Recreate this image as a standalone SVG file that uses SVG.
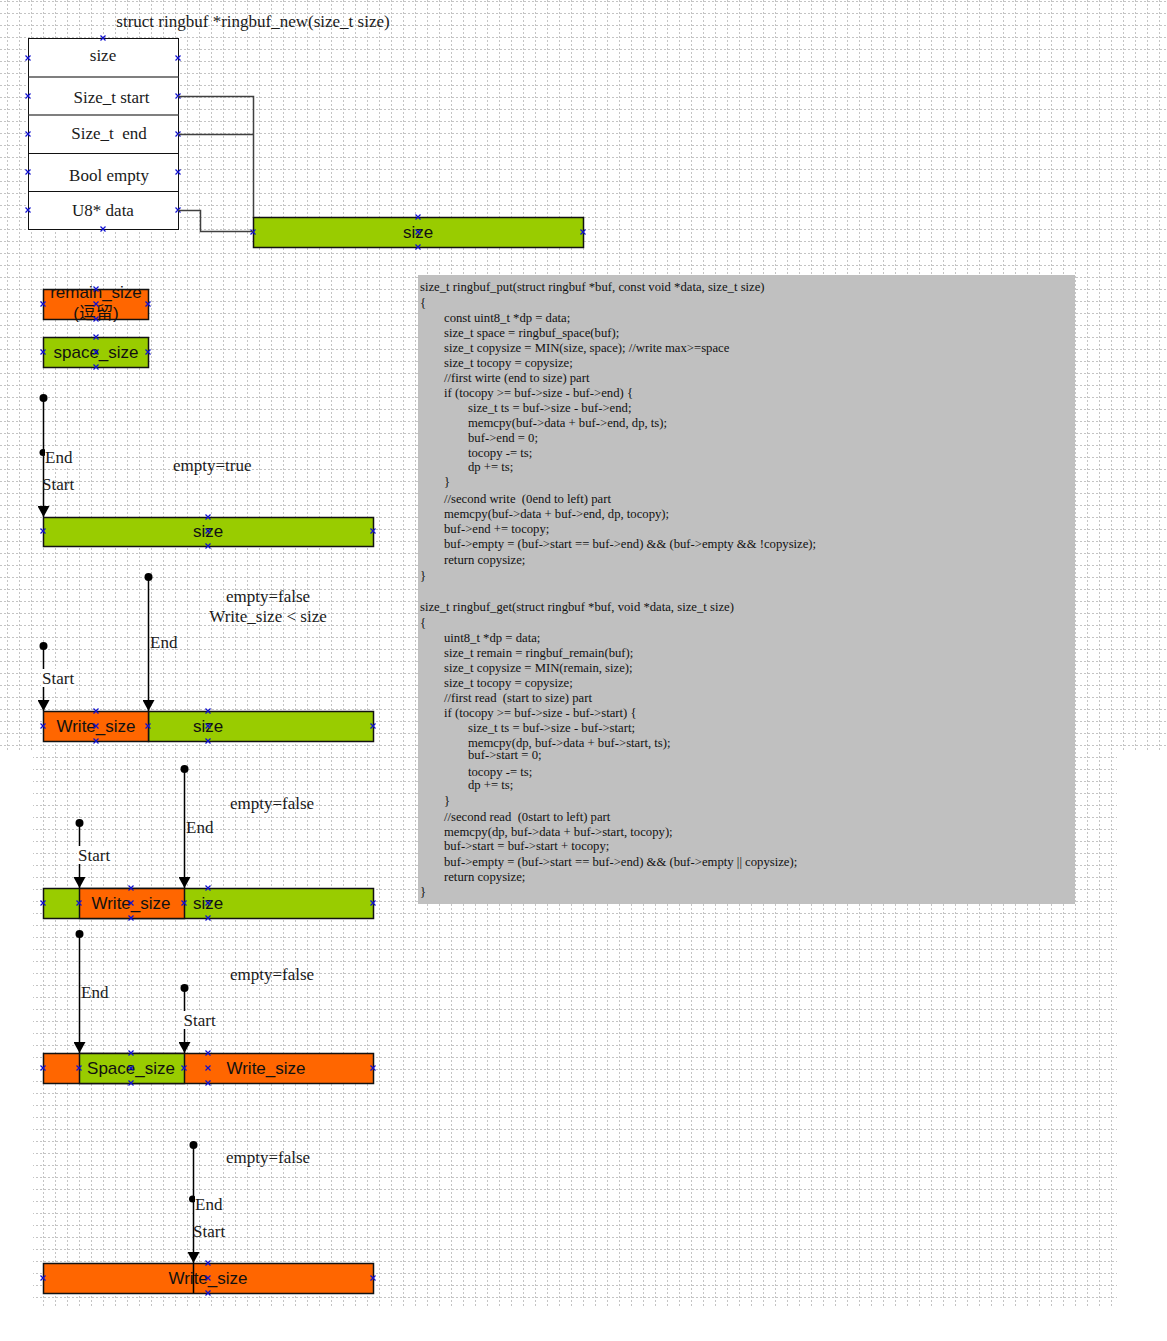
<svg xmlns="http://www.w3.org/2000/svg" xmlns:xlink="http://www.w3.org/1999/xlink" width="1167" height="1341" viewBox="0 0 1167 1341">
<style>
.serif{font-family:"Liberation Serif","Times New Roman",serif;font-size:17px;fill:#1a1a1a;white-space:pre}
.sans{font-family:"Liberation Sans",Arial,"Noto Sans CJK SC",sans-serif;font-size:17px;fill:#111;white-space:pre}
.code{font-family:"Liberation Serif","Times New Roman",serif;font-size:12.7px;fill:#111;white-space:pre}
.mid{text-anchor:middle}
.green{fill:#99cc00;stroke:#111;stroke-width:1.5}
.orange{fill:#ff6600;stroke:#111;stroke-width:1.5}
.wire{fill:none;stroke:#404040;stroke-width:1.5}
.ptr{fill:none;stroke:#000;stroke-width:1.5}
.arrow{marker-end:url(#arr)}
.dot{fill:#000}
.bg{fill:#fff}
.mk{fill:none;stroke:#1010d0;stroke-width:1.2}
</style>
<defs>
<pattern id="grid" width="12" height="12" patternUnits="userSpaceOnUse">
<path d="M0 1.5H12" stroke="#c4c4c4" stroke-width="1" stroke-dasharray="2 2"/>
<path d="M7.5 0V12" stroke="#c4c4c4" stroke-width="1" stroke-dasharray="2 2"/>
</pattern>
<marker id="arr" viewBox="0 0 11 12" refX="11" refY="6" markerWidth="11" markerHeight="12" markerUnits="userSpaceOnUse" orient="auto">
<path d="M0,0 L11,6 L0,12 z" fill="#000"/>
</marker>
<symbol id="x" overflow="visible"><path class="mk" d="M-2.5,-2.5L2.5,2.5M-2.5,2.5L2.5,-2.5"/></symbol>
</defs>

<rect width="1167" height="1341" fill="#fff"/>
<g id="grid-bg">
<rect x="0" y="0" width="1167" height="750" fill="url(#grid)"/>
<rect x="33" y="750" width="1084" height="557" fill="url(#grid)"/>
</g>

<text class="serif mid" x="253" y="27">struct ringbuf *ringbuf_new(size_t size)</text>

<g id="struct">
<rect x="28.5" y="38.5" width="150" height="191" fill="#fff" stroke="#111" stroke-width="1"/>
<path d="M28.5 77H178.5M28.5 115H178.5" stroke="#555" stroke-width="1.5"/>
<path d="M28.5 153.5H178.5M28.5 191.5H178.5" stroke="#111" stroke-width="1"/>
<text class="serif mid" x="103" y="61">size</text>
<text class="serif mid" x="111.5" y="103">Size_t start</text>
<text class="serif mid" x="109" y="139">Size_t  end</text>
<text class="serif mid" x="109" y="181">Bool empty</text>
<text class="serif mid" x="103" y="216">U8* data</text>
<use href="#x" x="103" y="38"/><use href="#x" x="28" y="58"/><use href="#x" x="178" y="58"/>
<use href="#x" x="28" y="96"/><use href="#x" x="178" y="96"/>
<use href="#x" x="28" y="134"/><use href="#x" x="178" y="134"/>
<use href="#x" x="28" y="172"/><use href="#x" x="178" y="172"/>
<use href="#x" x="28" y="210"/><use href="#x" x="178" y="210"/>
<use href="#x" x="103" y="229"/>
</g>

<g id="buffer">
<rect class="green" x="253.5" y="217.5" width="330" height="30"/>
<text class="sans mid" x="418" y="238">size</text>
<use href="#x" x="418" y="217"/><use href="#x" x="418" y="232"/><use href="#x" x="418" y="247"/>
<use href="#x" x="253" y="232"/><use href="#x" x="583" y="232"/>
</g>

<g id="remain-size">
<rect class="orange" x="43.5" y="289.5" width="105" height="30"/>
<text class="sans mid" x="96" y="298">remain_size</text>
<text class="sans mid" x="96" y="319">(逗留)</text>
<use href="#x" x="96" y="289"/><use href="#x" x="43" y="304"/><use href="#x" x="96" y="304"/><use href="#x" x="148" y="304"/><use href="#x" x="96" y="319"/>
</g>

<g id="space-size">
<rect class="green" x="43.5" y="337.5" width="105" height="30"/>
<text class="sans mid" x="96" y="358">space_size</text>
<use href="#x" x="96" y="337"/><use href="#x" x="43" y="352"/><use href="#x" x="96" y="352"/><use href="#x" x="148" y="352"/><use href="#x" x="96" y="367"/>
</g>

<g id="scene1-bar">
<rect class="green" x="43.5" y="517.5" width="330" height="29"/>
<text class="sans mid" x="208" y="537">size</text>
<use href="#x" x="208" y="517"/><use href="#x" x="43" y="531"/><use href="#x" x="208" y="531"/><use href="#x" x="373" y="531"/><use href="#x" x="208" y="546"/>
</g>

<g id="scene2-bar">
<rect class="green" x="148.5" y="711.5" width="225" height="30"/>
<rect class="orange" x="43.5" y="711.5" width="105" height="30"/>
<text class="sans mid" x="96" y="732">Write_size</text>
<text class="sans mid" x="208" y="732">size</text>
<use href="#x" x="96" y="711"/><use href="#x" x="43" y="726"/><use href="#x" x="96" y="726"/><use href="#x" x="148" y="726"/><use href="#x" x="96" y="741"/>
<use href="#x" x="208" y="711"/><use href="#x" x="208" y="726"/><use href="#x" x="373" y="726"/><use href="#x" x="208" y="741"/>
</g>

<g id="scene3-bar">
<rect class="green" x="43.5" y="888.5" width="330" height="30"/>
<rect class="orange" x="79.5" y="888.5" width="105" height="30"/>
<text class="sans mid" x="131" y="909">Write_size</text>
<text class="sans mid" x="208" y="909">size</text>
<use href="#x" x="43" y="903"/><use href="#x" x="79" y="903"/><use href="#x" x="131" y="888"/><use href="#x" x="131" y="903"/><use href="#x" x="131" y="918"/>
<use href="#x" x="184" y="903"/><use href="#x" x="208" y="888"/><use href="#x" x="208" y="903"/><use href="#x" x="373" y="903"/><use href="#x" x="208" y="918"/>
</g>

<g id="scene4-bar">
<rect class="orange" x="43.5" y="1053.5" width="330" height="30"/>
<rect class="green" x="79.5" y="1053.5" width="105" height="30"/>
<text class="sans mid" x="131" y="1074">Space_size</text>
<text class="sans mid" x="266" y="1074">Write_size</text>
<use href="#x" x="43" y="1068"/><use href="#x" x="79" y="1068"/><use href="#x" x="131" y="1053"/><use href="#x" x="131" y="1068"/><use href="#x" x="131" y="1083"/>
<use href="#x" x="184" y="1068"/><use href="#x" x="208" y="1053"/><use href="#x" x="208" y="1068"/><use href="#x" x="208" y="1083"/><use href="#x" x="373" y="1068"/>
</g>

<g id="scene5-bar">
<rect class="orange" x="43.5" y="1263.5" width="330" height="30"/>
<text class="sans mid" x="208" y="1284">Write_size</text>
<use href="#x" x="208" y="1263"/><use href="#x" x="43" y="1278"/><use href="#x" x="208" y="1278"/><use href="#x" x="373" y="1278"/><use href="#x" x="208" y="1293"/>
</g>

<g id="code">
<rect x="418" y="275" width="657" height="629" fill="#c0c0c0"/>
<text class="code" x="420" y="290.7">size_t ringbuf_put(struct ringbuf *buf, const void *data, size_t size)</text>
<text class="code" x="420" y="306.5">{</text>
<text class="code" x="444" y="322">const uint8_t *dp = data;</text>
<text class="code" x="444" y="337">size_t space = ringbuf_space(buf);</text>
<text class="code" x="444" y="352">size_t copysize = MIN(size, space); //write max&gt;=space</text>
<text class="code" x="444" y="367">size_t tocopy = copysize;</text>
<text class="code" x="444" y="381.7">//first wirte (end to size) part</text>
<text class="code" x="444" y="396.7">if (tocopy &gt;= buf-&gt;size - buf-&gt;end) {</text>
<text class="code" x="468" y="411.7">size_t ts = buf-&gt;size - buf-&gt;end;</text>
<text class="code" x="468" y="426.7">memcpy(buf-&gt;data + buf-&gt;end, dp, ts);</text>
<text class="code" x="468" y="442.3">buf-&gt;end = 0;</text>
<text class="code" x="468" y="456.7">tocopy -= ts;</text>
<text class="code" x="468" y="471.3">dp += ts;</text>
<text class="code" x="444" y="485.5">}</text>
<text class="code" x="444" y="503.3">//second write  (0end to left) part</text>
<text class="code" x="444" y="518.3">memcpy(buf-&gt;data + buf-&gt;end, dp, tocopy);</text>
<text class="code" x="444" y="533.3">buf-&gt;end += tocopy;</text>
<text class="code" x="444" y="548.3">buf-&gt;empty = (buf-&gt;start == buf-&gt;end) &amp;&amp; (buf-&gt;empty &amp;&amp; !copysize);</text>
<text class="code" x="444" y="564">return copysize;</text>
<text class="code" x="420" y="580">}</text>
<text class="code" x="420" y="610.7">size_t ringbuf_get(struct ringbuf *buf, void *data, size_t size)</text>
<text class="code" x="420" y="626.8">{</text>
<text class="code" x="444" y="642.3">uint8_t *dp = data;</text>
<text class="code" x="444" y="657.3">size_t remain = ringbuf_remain(buf);</text>
<text class="code" x="444" y="672.3">size_t copysize = MIN(remain, size);</text>
<text class="code" x="444" y="687.3">size_t tocopy = copysize;</text>
<text class="code" x="444" y="701.7">//first read  (start to size) part</text>
<text class="code" x="444" y="716.7">if (tocopy &gt;= buf-&gt;size - buf-&gt;start) {</text>
<text class="code" x="468" y="731.7">size_t ts = buf-&gt;size - buf-&gt;start;</text>
<text class="code" x="468" y="747.3">memcpy(dp, buf-&gt;data + buf-&gt;start, ts);</text>
<text class="code" x="468" y="759">buf-&gt;start = 0;</text>
<text class="code" x="468" y="775.7">tocopy -= ts;</text>
<text class="code" x="468" y="788.5">dp += ts;</text>
<text class="code" x="444" y="805">}</text>
<text class="code" x="444" y="820.7">//second read  (0start to left) part</text>
<text class="code" x="444" y="835.7">memcpy(dp, buf-&gt;data + buf-&gt;start, tocopy);</text>
<text class="code" x="444" y="850">buf-&gt;start = buf-&gt;start + tocopy;</text>
<text class="code" x="444" y="865.7">buf-&gt;empty = (buf-&gt;start == buf-&gt;end) &amp;&amp; (buf-&gt;empty || copysize);</text>
<text class="code" x="444" y="880.7">return copysize;</text>
<text class="code" x="420" y="896">}</text>
</g>

<g id="connectors">
<path class="wire" d="M178,96.5 H253.5 V217"/>
<path class="wire" d="M178,134.5 H253.5"/>
<path class="wire" d="M178,210.5 H200.5 V231.5 H253"/>
<circle class="dot" cx="43.5" cy="398" r="4"/>
<path class="ptr arrow" d="M43.5,398 V517"/>
<circle class="dot" cx="43" cy="452.5" r="3.5"/>
<circle class="dot" cx="148.5" cy="577" r="4"/>
<path class="ptr arrow" d="M148.5,577 V711"/>
<circle class="dot" cx="43.5" cy="646" r="4"/>
<path class="ptr arrow" d="M43.5,646 V711"/>
<circle class="dot" cx="184.5" cy="769" r="4"/>
<path class="ptr arrow" d="M184.5,769 V888"/>
<circle class="dot" cx="79.5" cy="823" r="4"/>
<path class="ptr arrow" d="M79.5,823 V888"/>
<circle class="dot" cx="79.5" cy="934" r="4"/>
<path class="ptr arrow" d="M79.5,934 V1053"/>
<circle class="dot" cx="184.5" cy="988" r="4"/>
<path class="ptr arrow" d="M184.5,988 V1053"/>
<circle class="dot" cx="193.5" cy="1145" r="4"/>
<path class="ptr arrow" d="M193.5,1145 V1263"/>
<circle class="dot" cx="192.5" cy="1199" r="3.5"/>
<path class="ptr" d="M193.5,1263 V1293"/>
</g>

<g id="labels">
<rect class="bg" x="45" y="448" width="28" height="20"/>
<text class="serif" x="45" y="463">End</text>
<text class="serif" x="42" y="490">Start</text>
<text class="serif" x="173" y="471">empty=true</text>

<text class="serif" x="150" y="648">End</text>
<rect class="bg" x="41" y="669" width="34" height="18"/>
<text class="serif" x="42" y="684">Start</text>
<text class="serif mid" x="268" y="602">empty=false</text>
<text class="serif mid" x="268" y="622">Write_size &lt; size</text>

<text class="serif mid" x="272" y="809">empty=false</text>
<text class="serif" x="186" y="833">End</text>
<rect class="bg" x="77" y="846" width="34" height="18"/>
<text class="serif" x="78" y="861">Start</text>

<text class="serif mid" x="272" y="980">empty=false</text>
<text class="serif" x="81" y="998">End</text>
<rect class="bg" x="182" y="1011" width="34" height="18"/>
<text class="serif" x="183.5" y="1026">Start</text>

<text class="serif mid" x="268" y="1163">empty=false</text>
<rect class="bg" x="195" y="1195" width="28" height="20"/>
<text class="serif" x="195" y="1210">End</text>
<text class="serif" x="193" y="1237">Start</text>
</g>
</svg>
